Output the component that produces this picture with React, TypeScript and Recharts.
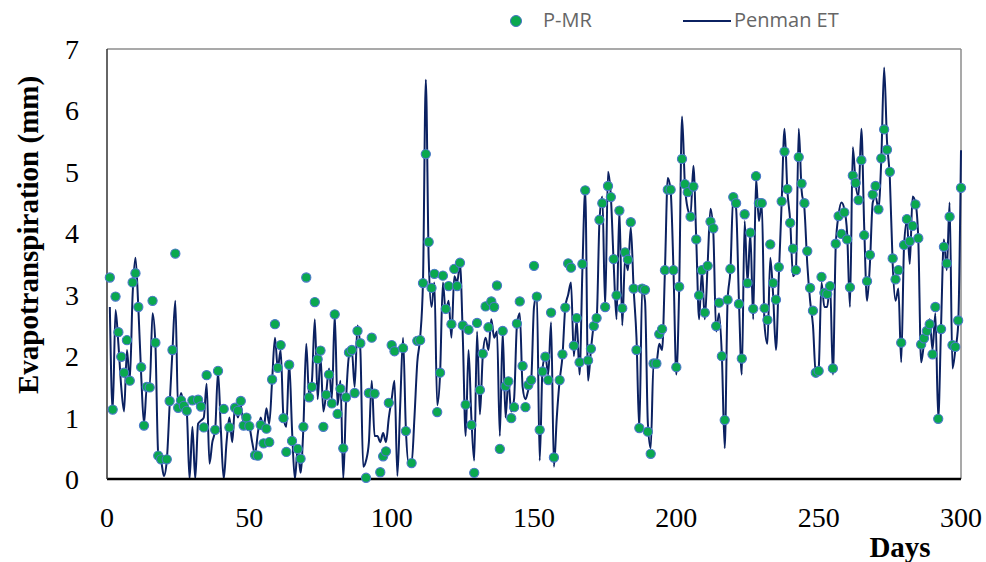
import { ComposedChart, Line, XAxis, YAxis, ReferenceLine } from 'recharts'

// Penman ET, days 1..300
const penmanEt = [
  2.8, 1.1, 2.75, 2.2, 1.5, 1.1, 2.1, 1.6, 3.0, 3.6,
  2.8, 1.7, 0.9, 1.5, 1.5, 2.7, 2.2, 0.4, 0.3, 0.05,
  0.3, 1.2, 2.1, 2.9, 1.1, 1.4, 1.2, 1.1, 0.0, 0.85,
  0.0, 0.9, 0.95, 1.0, 1.55, 0.25, 0.6, 0.8, 1.75, 0.8,
  0.0, 0.6, 1.0, 0.6, 1.2, 1.0, 1.2, 0.9, 0.9, 0.85,
  0.6, 0.4, 0.75, 1.0, 0.8, 1.15, 0.9, 1.6, 2.3, 1.8,
  2.1, 1.0, 0.85, 1.9, 0.8, 0.0, 0.5, 0.1, 0.85, 2.2,
  1.35, 1.6, 2.6, 1.3, 2.0, 1.1, 1.4, 1.8, 1.3, 2.68,
  1.2, 1.6, 0.0, 1.3, 2.0, 2.1, 1.5, 2.5, 2.1, 0.2,
  0.3, 0.6, 1.6, 0.7, 0.7, 0.6, 0.75, 0.6, 1.0, 1.3,
  1.6, 0.05, 1.2, 2.3, 0.8, 0.25, 0.25, 1.0, 1.9, 2.3,
  3.2, 6.5, 3.6, 2.8, 3.2, 1.2, 1.7, 3.2, 2.7, 2.9,
  2.3, 3.3, 3.2, 3.5, 2.3, 0.7, 2.1, 1.0, 0.3, 2.4,
  1.05, 2.0, 2.3, 2.1, 2.6, 2.3, 2.4, 0.7, 2.4, 1.0,
  1.6, 1.1, 1.3, 2.5, 2.7, 1.5, 1.3, 1.45, 1.6, 2.8,
  3.0, 0.3, 1.8, 2.0, 1.7, 2.55, 0.2, 1.0, 1.6, 2.0,
  2.8, 3.0, 3.2, 2.0, 2.6, 1.7, 3.4, 4.7, 1.6, 2.1,
  2.5, 2.6, 4.2, 4.6, 2.8, 5.0, 4.6, 3.5, 2.6, 4.4,
  2.5, 3.6, 3.4, 4.1, 3.1, 2.3, 0.8, 3.1, 2.9, 0.9,
  0.5, 1.9, 1.9, 2.2, 2.1, 3.4, 4.9, 4.7, 3.4, 1.7,
  3.1, 5.9, 4.8, 4.4, 4.3, 5.1, 3.9, 2.6, 3.4, 2.6,
  3.5, 4.4, 4.0, 2.4, 2.7, 2.0, 0.5, 2.9, 3.4, 4.6,
  4.4, 2.9, 1.7, 4.2, 3.2, 4.0, 2.6, 4.9, 4.2, 4.5,
  2.5, 2.2, 3.6, 3.0, 2.1, 3.3, 4.5, 5.7, 4.7, 4.2,
  3.3, 3.4, 5.7, 4.7, 4.4, 3.5, 2.9, 2.5, 1.7, 1.8,
  3.2, 2.8, 2.8, 3.2, 1.7, 3.8, 4.3, 4.5, 4.4, 4.0,
  2.8, 5.4, 4.8, 4.6, 5.7, 4.1, 2.9, 3.5, 4.5, 4.6,
  4.4, 5.2, 6.7, 5.5, 4.9, 3.5, 2.9, 3.1, 1.9, 3.8,
  4.2, 3.5, 4.6, 4.5, 3.9, 1.9, 2.2, 2.4, 2.6, 2.1,
  2.7, 0.98, 2.5, 3.9, 3.4, 4.5, 1.8, 2.1, 2.5, 5.35,
]

// P-MR points, days 1..300 (null where no marker is visible)
const pmr = [
  3.28, 1.13, 2.97, 2.39, 1.99, 1.73, 2.26, 1.6, 3.2, 3.35,
  2.8, 1.82, 0.87, 1.5, 1.49, 2.9, 2.22, 0.38, 0.32, null,
  0.32, 1.27, 2.1, 3.67, 1.16, 1.28, 1.19, 1.11, null, 1.28,
  null, 1.29, 1.18, 0.84, 1.69, null, null, 0.8, 1.76, null,
  1.14, null, 0.84, null, 1.16, 1.11, 1.27, 0.87, 1.0, 0.86,
  null, 0.39, 0.38, 0.88, 0.58, 0.82, 0.6, 1.62, 2.52, 1.81,
  2.18, 0.99, 0.44, 1.86, 0.62, null, 0.49, 0.33, 0.85, 3.28,
  1.33, 1.5, 2.88, 1.95, 2.09, 0.85, 1.37, 1.7, 1.23, 2.68,
  1.06, 1.47, 0.5, 1.33, 2.06, 2.1, 1.4, 2.41, 2.21, null,
  0.02, 1.4, 2.3, 1.39, null, 0.11, 0.37, 0.45, 1.24, 2.18,
  2.08, null, null, 2.13, 0.78, null, 0.26, null, 2.25, 2.26,
  3.19, 5.29, 3.86, 3.11, 3.34, 1.09, 1.73, 3.31, 2.77, 3.14,
  2.52, 3.42, 3.14, 3.52, 2.5, 1.21, 2.43, 0.88, 0.1, 2.54,
  1.45, 2.04, 2.81, 2.47, 2.89, 2.8, 3.15, 0.49, 2.41, 1.51,
  1.59, 0.99, 1.17, 2.53, 2.89, 1.84, 1.17, 1.53, 1.61, 3.47,
  2.97, 0.8, 1.75, 1.99, 1.61, 2.71, 0.35, null, 1.61, 2.03,
  2.79, 3.51, 3.44, 2.17, 2.62, 1.9, 3.5, 4.7, 1.93, 2.12,
  2.49, 2.62, 4.22, 4.49, 2.8, 4.77, 4.59, 3.58, 2.99, 4.37,
  2.78, 3.69, 3.57, 4.18, 3.1, 2.1, 0.83, 3.1, 3.08, 0.77,
  0.41, 1.88, 1.88, 2.36, 2.44, 3.4, 4.71, 4.71, 3.4, 1.82,
  3.13, 5.21, 4.8, 4.67, 4.27, 4.76, 3.9, 2.99, 3.4, 2.71,
  3.47, 4.19, 4.08, 2.49, 2.87, 2.0, 0.96, 2.92, 3.42, 4.59,
  4.49, 2.85, 1.96, 4.31, 3.19, 4.01, 2.77, 4.93, 4.49, 4.49,
  2.78, 2.59, 3.82, 3.19, 2.92, 3.45, 4.52, 5.33, 4.72, 4.17,
  3.75, 3.4, 5.24, 4.81, 4.49, 3.71, 3.11, 2.74, 1.73, 1.76,
  3.29, 3.03, 3.01, 3.14, 1.8, 3.83, 4.28, 3.99, 4.34, 3.9,
  3.12, 4.94, 4.82, 4.54, 5.19, 3.97, 3.22, 3.65, 4.63, 4.77,
  4.39, 5.22, 5.69, 5.36, 5.0, 3.59, 3.25, 3.4, 2.22, 3.81,
  4.23, 3.87, 4.12, 4.47, 3.92, 2.19, 2.29, 2.41, 2.52, 2.03,
  2.8, 0.98, 2.44, 3.78, 3.51, 4.27, 2.18, 2.15, 2.58, 4.74,
]

const xTicks = [0, 50, 100, 150, 200, 250, 300]
const yTicks = [0, 1, 2, 3, 4, 5, 6, 7]

const data = penmanEt.map((et, i) => ({ day: i + 1, et, pmr: pmr[i] }))

const serif = '"Liberation Serif", "Times New Roman", serif'
const sans = '"Open Sans", "Noto Sans", sans-serif'
const navy = '#0b2161'

export default function App() {
  return (
    <div style={{ position: 'absolute', left: 0, top: 0, width: 986, height: 562, background: '#fff' }}>
      {/* legend */}
      <div style={{ position: 'absolute', top: 6, left: 0, width: 986, height: 28, fontFamily: sans, fontSize: 20, color: '#666' }}>
        <span style={{ position: 'absolute', left: 510, top: 9, width: 10, height: 10, borderRadius: 6, background: '#0aa84f', border: '1px solid #4472c4' }} />
        <span style={{ position: 'absolute', left: 543, top: 0, lineHeight: '28px' }}>P-MR</span>
        <span style={{ position: 'absolute', left: 683, top: 14, width: 48, height: 2, background: navy }} />
        <span style={{ position: 'absolute', left: 734, top: 0, lineHeight: '28px' }}>Penman ET</span>
      </div>
      <ComposedChart width={986} height={562} data={data} margin={{ top: 49, right: 25, left: 0, bottom: 0 }}>
        <XAxis
          dataKey="day"
          type="number"
          domain={[0, 300]}
          ticks={xTicks}
          interval={0}
          height={83}
          tickSize={0}
          tickMargin={28}
          tickLine={false}
          axisLine={{ stroke: '#000', strokeWidth: 2.5 }}
          tick={{ fontFamily: serif, fontSize: 28, fill: '#000' }}
          label={{
            content: () => (
              <text x={900} y={557} textAnchor="middle" fontFamily={serif} fontWeight="bold" fontSize={29} fill="#000">
                Days
              </text>
            ),
          }}
        />
        <YAxis
          type="number"
          domain={[0, 7]}
          ticks={yTicks}
          interval={0}
          width={107}
          tickSize={0}
          tickMargin={28}
          tickLine={false}
          axisLine={{ stroke: '#333', strokeWidth: 1.5 }}
          tick={{ fontFamily: serif, fontSize: 28, fill: '#000' }}
          label={{
            content: () => (
              <text
                x={28}
                y={235}
                transform="rotate(-90 28 235)"
                textAnchor="middle"
                dominantBaseline="central"
                fontFamily={serif}
                fontWeight="bold"
                fontSize={29}
                fill="#000"
              >
                Evapotranspiration (mm)
              </text>
            ),
          }}
        />
        <ReferenceLine y={7} stroke="#8c8c8c" strokeWidth={1.5} />
        <ReferenceLine x={300} stroke="#8c8c8c" strokeWidth={1.5} />
        <Line
          type="monotone"
          dataKey="et"
          stroke={navy}
          strokeWidth={2}
          dot={false}
          activeDot={false}
          isAnimationActive={false}
        />
        <Line
          dataKey="pmr"
          stroke="none"
          dot={{ r: 4.6, fill: '#0aa84f', stroke: '#4a78c8', strokeWidth: 1.1 }}
          activeDot={false}
          connectNulls={false}
          isAnimationActive={false}
        />
      </ComposedChart>
    </div>
  )
}
